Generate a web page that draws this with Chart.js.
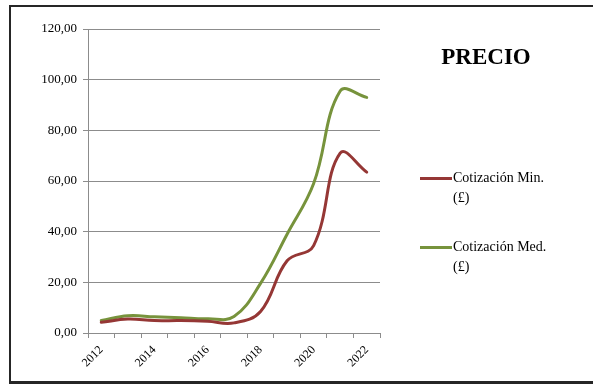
<!DOCTYPE html>
<html>
<head>
<meta charset="utf-8">
<script src="https://cdn.jsdelivr.net/npm/chart.js@4"></script>
<style>
  html, body { margin: 0; padding: 0; background: #fff; }
  #wrap { position: relative; width: 593px; height: 385px; overflow: hidden; }
  #frame { position: absolute; left: 9px; top: 5px; width: 600px; height: 374px; border: 2px solid #262626; border-bottom-width: 3px; box-sizing: content-box; }
  #cv { position: absolute; left: 0; top: 0; }
  #title { position: absolute; left: 386px; width: 200px; top: 44px; text-align: center;
           font: bold 23px "Liberation Serif", "DejaVu Serif", serif; color: #000; }
  .leg { position: absolute; left: 420px; font: 14px "Liberation Serif", "DejaVu Serif", serif; color: #000; line-height: 20px; }
  .leg .sw { position: absolute; left: 0; top: 9px; width: 32px; height: 3px; }
  .leg .tx { margin-left: 33px; white-space: nowrap; }
</style>
</head>
<body>
<div id="wrap">
  <div id="frame"></div>
  <canvas id="cv" width="593" height="385"></canvas>
  <div id="title">PRECIO</div>
  <div id="legend"></div>
</div>
<script>
// Years on the category axis
const years = ['2012', '2013', '2014', '2015', '2016', '2017', '2018', '2019', '2020', '2021', '2022'];
// Minimum quote, pounds
const cotizacionMin = [4.2, 5.5, 4.9, 4.9, 4.6, 4.0, 8.5, 28.5, 34.5, 71.0, 63.5];
// Average quote, pounds
const cotizacionMed = [4.9, 6.8, 6.4, 6.0, 5.6, 6.5, 19.6, 39.0, 59.0, 95.5, 93.0];
// Series names (each wraps onto two lines in the legend)
const seriesNames = [['Cotización Min.', '(£)'], ['Cotización Med.', '(£)']];
const seriesColors = ['#953735', '#77933C'];
// Value axis ticks
const yTicks = [0, 20, 40, 60, 80, 100, 120];

const serif = '"Liberation Serif", "DejaVu Serif", serif';
const gridGray = '#8c8c8c';

const chart = new Chart(document.getElementById('cv'), {
  type: 'line',
  data: {
    labels: years,
    datasets: [
      { label: seriesNames[0].join(' '), data: cotizacionMin, borderColor: seriesColors[0] },
      { label: seriesNames[1].join(' '), data: cotizacionMed, borderColor: seriesColors[1] }
    ].map(d => Object.assign(d, {
      borderWidth: 3, pointRadius: 0, pointHoverRadius: 0, fill: false,
      tension: 0.4, cubicInterpolationMode: 'default', borderCapStyle: 'round'
    }))
  },
  options: {
    responsive: false,
    animation: false,
    devicePixelRatio: 1,
    layout: { padding: { left: 0, right: 213, top: 29, bottom: 0 } },
    plugins: { legend: { display: false }, title: { display: false }, tooltip: { enabled: false } },
    scales: {
      x: {
        type: 'category',
        offset: true,
        grid: { offset: true, drawOnChartArea: false, drawTicks: true, tickLength: 5, color: gridGray, lineWidth: 1 },
        border: { color: gridGray, width: 1 },
        ticks: {
          autoSkip: false, maxRotation: 45, minRotation: 45, padding: 5,
          color: '#000', font: { family: serif, size: 12 },
          callback: (v, i) => (i % 2 === 0 ? years[i] : '')
        },
        afterFit: s => { s.height = 385 - 333; }
      },
      y: {
        min: 0, max: 120,
        afterBuildTicks: s => { s.ticks = yTicks.map(v => ({ value: v })); },
        grid: { color: gridGray, lineWidth: 1, drawTicks: true, tickLength: 5 },
        border: { color: gridGray, width: 1 },
        ticks: {
          padding: 6, color: '#000', font: { family: serif, size: 13 },
          callback: v => v.toFixed(2).replace('.', ',')
        },
        afterFit: s => { s.width = 88; }
      }
    }
  }
});

// Legend built from the chart's datasets
const legend = document.getElementById('legend');
const legendTops = [168, 237];
chart.data.datasets.forEach((ds, i) => {
  const item = document.createElement('div');
  item.className = 'leg';
  item.style.top = legendTops[i] + 'px';
  const sw = document.createElement('div');
  sw.className = 'sw';
  sw.style.background = ds.borderColor;
  const tx = document.createElement('div');
  tx.className = 'tx';
  tx.innerHTML = seriesNames[i].join('<br>');
  item.appendChild(sw);
  item.appendChild(tx);
  legend.appendChild(item);
});
</script>
</body>
</html>
